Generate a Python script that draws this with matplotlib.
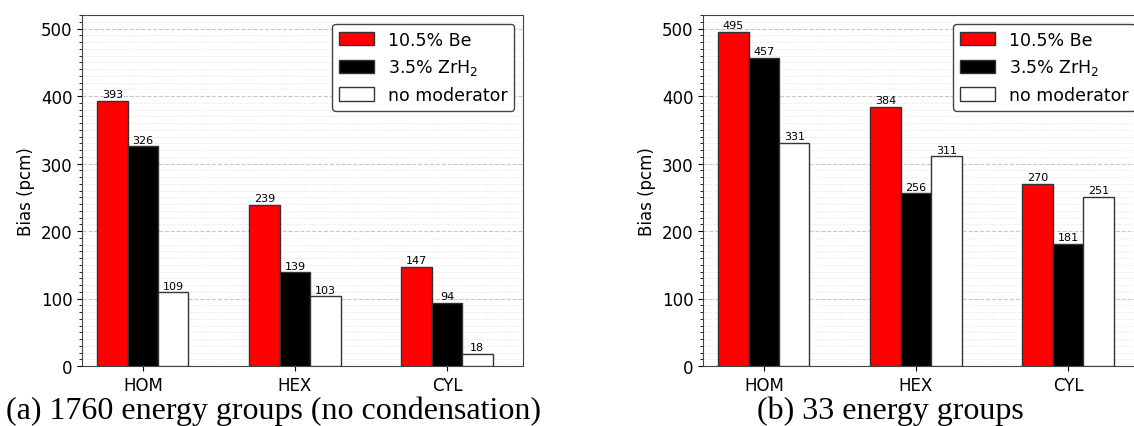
import matplotlib
matplotlib.use('Agg')
import matplotlib.pyplot as plt
from matplotlib.ticker import MultipleLocator
import numpy as np

# %% data

categories = ['HOM', 'HEX', 'CYL']
series_names = ['10.5% Be', '3.5% ZrH$_2$', 'no moderator']
series_colors = ['red', 'black', 'white']

bias_1760 = [[393, 239, 147],   # 10.5% Be
             [326, 139, 94],    # 3.5% ZrH2
             [109, 103, 18]]    # no moderator
bias_33 = [[495, 384, 270],
           [457, 256, 181],
           [331, 311, 251]]

captions = ['(a) 1760 energy groups (no condensation)', '(b) 33 energy groups']

# %% figure

W, H = 1134, 427
fig = plt.figure(figsize=(W/100, H/100), dpi=100)

ax_w = 441 / W
ax_h = 351 / H
ax_b = (H - 367) / H
ax1 = fig.add_axes([82/W, ax_b, ax_w, ax_h])
ax2 = fig.add_axes([703/W, ax_b, ax_w, ax_h])

x = np.arange(len(categories))
width = 0.2


def _draw(ax, data):
    for i, (vals, name, col) in enumerate(zip(data, series_names, series_colors)):
        bars = ax.bar(x + (i - 1)*width, vals, width, color=col, label=name,
                      edgecolor='#333333', linewidth=1.0, zorder=3)
        ax.bar_label(bars, labels=[str(v) for v in vals], fontsize=8, padding=1)

    ax.set_xlim(-0.4, 2.5)
    ax.set_ylim(0, 520)
    ax.set_xticks(x)
    ax.set_xticklabels(categories, fontsize=12)
    ax.yaxis.set_major_locator(MultipleLocator(100))
    ax.yaxis.set_minor_locator(MultipleLocator(10))
    ax.tick_params(axis='y', labelsize=12)
    ax.set_ylabel('Bias (pcm)', fontsize=12)

    ax.grid(axis='y', which='major', linestyle='--', color='#c8c8c8', linewidth=0.8, zorder=0)
    ax.grid(axis='y', which='minor', linestyle=':', color='#e2e2e2', linewidth=0.7, zorder=0)
    for sp in ax.spines.values():
        sp.set_color('#444444')

    leg = ax.legend(loc='upper right', fontsize=12.5, fancybox=True, framealpha=1,
                    borderaxespad=0.5, handleheight=0.8)
    leg.get_frame().set_edgecolor('#444444')
    leg.get_frame().set_linewidth(1.0)


_draw(ax1, bias_1760)
_draw(ax2, bias_33)

fig.text(273/W, 1 - 411/H, captions[0], ha='center', va='center',
         fontsize=23, family='Liberation Serif')
fig.text(890/W, 1 - 411/H, captions[1], ha='center', va='center',
         fontsize=23, family='Liberation Serif')

fig.savefig('out.png', dpi=100)
